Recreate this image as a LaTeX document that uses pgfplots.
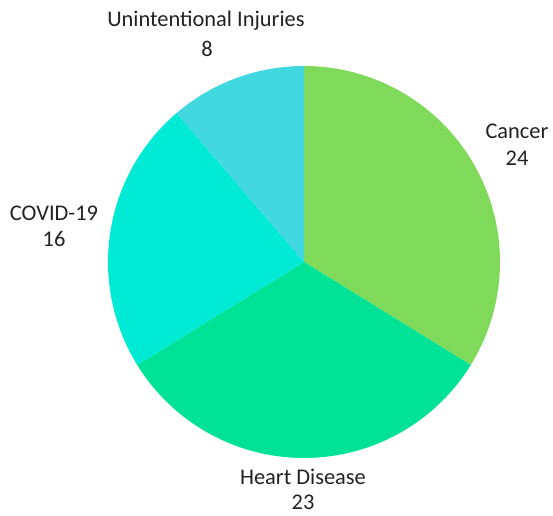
\documentclass[border=0pt]{standalone}
\usepackage{fontspec}
\setmainfont{Carlito}
\usepackage{pgfplots}
\pgfplotsset{compat=1.18}
\definecolor{cCancer}{HTML}{80DA5A}
\definecolor{cHeart}{HTML}{00E396}
\definecolor{cCovid}{HTML}{00EAD5}
\definecolor{cInj}{HTML}{42D8E1}
\definecolor{txt}{HTML}{222222}
\tikzset{lab/.style={anchor=base,font=\fontsize{22.5}{26}\selectfont,text=txt,inner sep=0pt}}
\begin{document}
\begin{tikzpicture}
% data: Cancer 24, Heart Disease 23, COVID-19 16, Unintentional Injuries 8
\def\vA{24}\def\vB{23}\def\vC{16}\def\vD{8}
\pgfmathsetmacro{\total}{\vA+\vB+\vC+\vD}
\pgfmathsetmacro{\aA}{90}
\pgfmathsetmacro{\aB}{\aA-360*\vA/\total}
\pgfmathsetmacro{\aC}{\aB-360*\vB/\total}
\pgfmathsetmacro{\aD}{\aC-360*\vC/\total}
\pgfmathsetmacro{\aE}{\aD-360*\vD/\total}
\def\cx{304}\def\cy{254}\def\r{196}
\begin{axis}[x=1bp,y=1bp,anchor=origin,at={(0,0)},
  xmin=0,xmax=553,ymin=0,ymax=516,hide axis,clip=false]
\addplot[fill=cCancer,draw=none,domain=\aB:\aA,samples=120,variable=\t]
  ({\cx+\r*cos(\t)},{\cy+\r*sin(\t)}) -- (axis cs:\cx,\cy) -- cycle;
\addplot[fill=cHeart,draw=none,domain=\aC:\aB,samples=120,variable=\t]
  ({\cx+\r*cos(\t)},{\cy+\r*sin(\t)}) -- (axis cs:\cx,\cy) -- cycle;
\addplot[fill=cCovid,draw=none,domain=\aD:\aC,samples=100,variable=\t]
  ({\cx+\r*cos(\t)},{\cy+\r*sin(\t)}) -- (axis cs:\cx,\cy) -- cycle;
\addplot[fill=cInj,draw=none,domain=\aE:\aD,samples=60,variable=\t]
  ({\cx+\r*cos(\t)},{\cy+\r*sin(\t)}) -- (axis cs:\cx,\cy) -- cycle;
\node[lab] at (axis cs:206,489) {Unintentional Injuries};
\node[lab] at (axis cs:207,459) {8};
\node[lab] at (axis cs:517,378) {Cancer};
\node[lab] at (axis cs:517,351) {24};
\node[lab] at (axis cs:54,296) {COVID-19};
\node[lab] at (axis cs:54,270) {16};
\node[lab] at (axis cs:303,32) {Heart Disease};
\node[lab] at (axis cs:303,7) {23};
\end{axis}
\useasboundingbox (0,0) rectangle (553bp,516bp);
\end{tikzpicture}
\end{document}
